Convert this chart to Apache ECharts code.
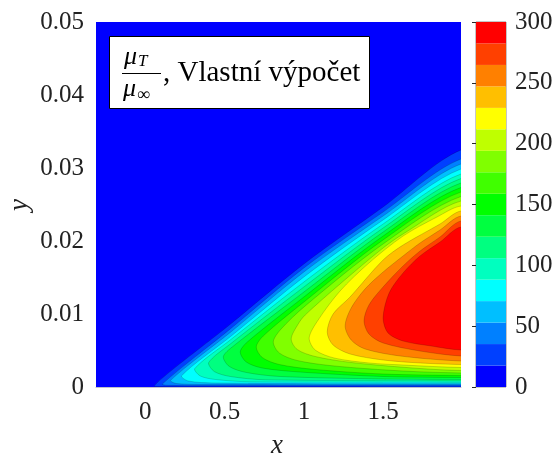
<!DOCTYPE html>
<html><head><meta charset="utf-8">
<script src="https://cdn.jsdelivr.net/npm/echarts@6/dist/echarts.min.js"></script>
<style>html,body{margin:0;padding:0;background:#fff}#c{width:557px;height:457px}</style>
</head><body><div id="c"></div>
<script>
// axis ticks
const xTicks = [0, 0.5, 1, 1.5];
const cbTicks = [0, 50, 100, 150, 200, 250, 300];
// colour band edges (mu_T/mu_inf)
const cbEdges = [0,17.6,35.3,52.9,70.6,88.2,105.9,123.5,141.2,158.8,176.5,194.1,211.8,229.4,247.1,264.7,282.4,300];
const bandColors = ['#0000ff','#0040ff','#0080ff','#00bfff','#00ffff','#00ffbf','#00ff80','#00ff40','#00ff00','#40ff00','#80ff00','#bfff00','#ffff00','#ffbf00','#ff8000','#ff4000','#ff0000'];
// contour lines (x, y): lower edge from right edge to nose, then upper edge back to right edge
const lv01 = [[1.99,0.00005],[0.058,0.00007],[0.536,0.00859],[1.008,0.01699],[1.499,0.02466],[1.99,0.03247]];
const lv02 = [[1.99,0.00021],[0.347,0.00021],[0.146,0.00023],[0.108,0.00041],[0.536,0.00795],[1.008,0.01644],[1.499,0.02397],[1.99,0.03123]];
const lv03 = [[1.99,0.00034],[0.347,0.00037],[0.196,0.00048],[0.159,0.00089],[0.536,0.00747],[1.008,0.01589],[1.499,0.02342],[1.99,0.03055]];
const lv04 = [[1.99,0.00048],[0.442,0.00055],[0.272,0.00082],[0.228,0.00151],[0.536,0.00688],[1.008,0.01521],[1.499,0.02288],[1.99,0.02986]];
const lv05 = [[1.99,0.00062],[0.662,0.00071],[0.442,0.00103],[0.347,0.00151],[0.310,0.00247],[0.536,0.00644],[1.008,0.01452],[1.499,0.02233],[1.99,0.02918]];
const lv06 = [[1.99,0.00082],[0.756,0.00099],[0.536,0.00144],[0.435,0.00212],[0.398,0.00329],[0.536,0.00589],[1.008,0.01384],[1.499,0.02178],[1.99,0.02856]];
const lv07 = [[1.99,0.00103],[1.499,0.00110],[0.851,0.00144],[0.637,0.00199],[0.530,0.00281],[0.492,0.00411],[0.536,0.00527],[1.008,0.01315],[1.499,0.02123],[1.99,0.02795]];
const lv08 = [[1.99,0.00130],[1.499,0.00144],[0.977,0.00205],[0.738,0.00260],[0.637,0.00342],[0.599,0.00479],[0.643,0.00616],[1.008,0.01247],[1.499,0.02068],[1.99,0.02733]];
const lv09 = [[1.99,0.00158],[1.499,0.00178],[1.071,0.00240],[0.845,0.00308],[0.738,0.00404],[0.700,0.00548],[0.744,0.00699],[1.008,0.01178],[1.499,0.02014],[1.99,0.02671]];
const lv10 = [[1.99,0.00192],[1.625,0.00219],[1.191,0.00288],[0.958,0.00363],[0.845,0.00466],[0.807,0.00616],[0.851,0.00781],[1.008,0.01110],[1.499,0.01959],[1.99,0.02610]];
const lv11 = [[1.99,0.00226],[1.732,0.00253],[1.298,0.00336],[1.071,0.00418],[0.958,0.00514],[0.920,0.00658],[0.964,0.00863],[1.008,0.00986],[1.228,0.01411],[1.499,0.01904],[1.625,0.02096],[1.99,0.02548]];
const lv12 = [[1.99,0.00267],[1.625,0.00301],[1.410,0.00329],[1.191,0.00397],[1.071,0.00507],[1.033,0.00671],[1.090,0.00918],[1.228,0.01315],[1.410,0.01699],[1.625,0.02068],[1.839,0.02329],[1.99,0.02479]];
const lv13 = [[1.99,0.00308],[1.732,0.00329],[1.499,0.00370],[1.291,0.00452],[1.184,0.00575],[1.147,0.00753],[1.184,0.01000],[1.291,0.01233],[1.499,0.01740],[1.625,0.01945],[1.858,0.02233],[1.99,0.02411]];
const lv14 = [[1.99,0.00356],[1.606,0.00425],[1.385,0.00521],[1.298,0.00644],[1.260,0.00836],[1.298,0.01082],[1.385,0.01342],[1.499,0.01575],[1.625,0.01795],[1.732,0.01973],[1.858,0.02151],[1.99,0.02342]];
const lv15 = [[1.99,0.00425],[1.732,0.00493],[1.499,0.00603],[1.410,0.00726],[1.379,0.00904],[1.410,0.01123],[1.499,0.01370],[1.625,0.01658],[1.732,0.01863],[1.858,0.02055],[1.99,0.02274]];
const lv16 = [[1.99,0.00507],[1.801,0.00562],[1.625,0.00630],[1.530,0.00740],[1.499,0.00945],[1.537,0.01288],[1.625,0.01562],[1.732,0.01795],[1.858,0.01986],[1.99,0.02192]];
const contours = [lv01,lv02,lv03,lv04,lv05,lv06,lv07,lv08,lv09,lv10,lv11,lv12,lv13,lv14,lv15,lv16];

const FONT = "'Liberation Serif', 'DejaVu Serif', serif";
const X_MIN = -0.31, X_MAX = 1.99;

function renderContour(params, api) {
  const i = api.value(0);
  const pts = contours[i];
  const ext = X_MAX + 0.4;
  const P = [api.coord([ext, pts[0][1]])];
  pts.forEach(p => P.push(api.coord(p)));
  P.push(api.coord([ext, pts[pts.length - 1][1]]));
  let mn = [Infinity, Infinity], mx = [-Infinity, -Infinity];
  P.forEach(p => { mn[0] = Math.min(mn[0], p[0]); mn[1] = Math.min(mn[1], p[1]); mx[0] = Math.max(mx[0], p[0]); mx[1] = Math.max(mx[1], p[1]); });
  return {
    type: 'polygon',
    shape: { points: P, smooth: 0.3, smoothConstraint: [mn, mx] },
    style: { fill: bandColors[i + 1], stroke: 'rgba(0,0,0,0.28)', lineWidth: 0.6 }
  };
}
function renderBar(params, api) {
  const i = api.value(0);
  const a = api.coord([0, cbEdges[i]]);
  const b = api.coord([1, cbEdges[i + 1]]);
  return { type: 'rect', shape: { x: a[0], y: b[1], width: b[0] - a[0], height: a[1] - b[1] }, style: { fill: bandColors[i] } };
}

const chart = echarts.init(document.getElementById('c'), null, { renderer: 'canvas' });
chart.setOption({
  animation: false,
  backgroundColor: '#ffffff',
  grid: [
    { left: 96, top: 22, width: 365, height: 365, show: true, backgroundColor: bandColors[0], borderWidth: 0 },
    { left: 476, top: 22, width: 30, height: 365, show: true, backgroundColor: '#fff', borderColor: '#8c8c8c', borderWidth: 1 }
  ],
  xAxis: [
    { type: 'value', gridIndex: 0, min: X_MIN, max: X_MAX,
      axisLine: { show: true, lineStyle: { color: 'rgba(150,150,170,0.6)' } },
      axisTick: { show: false },
      splitLine: { show: false },
      axisLabel: { customValues: xTicks, fontFamily: FONT, fontSize: 25, color: '#222', margin: 13 } },
    { type: 'value', gridIndex: 1, min: 0, max: 1, show: false }
  ],
  yAxis: [
    { type: 'value', gridIndex: 0, min: 0, max: 0.05, interval: 0.01,
      axisLine: { show: false }, axisTick: { show: false }, splitLine: { show: false },
      axisLabel: { fontFamily: FONT, fontSize: 25, color: '#222', margin: 12 } },
    { type: 'value', gridIndex: 1, min: 0, max: 300, interval: 50, position: 'right',
      axisLine: { show: false }, splitLine: { show: false },
      axisTick: { show: true, inside: true, length: 4, lineStyle: { color: '#262626' } },
      axisLabel: { customValues: cbTicks, fontFamily: FONT, fontSize: 25, color: '#222', margin: 9 } }
  ],
  series: [
    { type: 'custom', xAxisIndex: 0, yAxisIndex: 0, clip: true, renderItem: renderContour,
      data: contours.map((c, i) => [i]), silent: true },
    { type: 'custom', xAxisIndex: 1, yAxisIndex: 1, renderItem: renderBar,
      data: bandColors.map((c, i) => [i]), silent: true }
  ],
  graphic: [
    { type: 'text', x: 277, y: 446, style: { text: 'x', font: "italic 27px " + FONT, fill: '#222', align: 'center', verticalAlign: 'middle' } },
    { type: 'text', x: 20, y: 205, rotation: Math.PI / 2, style: { text: 'y', font: "italic 27px " + FONT, fill: '#222', align: 'center', verticalAlign: 'middle' } },
    { type: 'rect', shape: { x: 109.5, y: 36.5, width: 260, height: 72 }, style: { fill: '#fff', stroke: '#000', lineWidth: 1 } },
    { type: 'text', x: 124, y: 57, style: { text: 'μ', font: "italic 26px " + FONT, fill: '#000', verticalAlign: 'middle' } },
    { type: 'text', x: 138, y: 62, style: { text: 'T', font: "italic 17px " + FONT, fill: '#000', verticalAlign: 'middle' } },
    { type: 'line', shape: { x1: 122, y1: 73.5, x2: 161, y2: 73.5 }, style: { stroke: '#000', lineWidth: 1 } },
    { type: 'text', x: 123, y: 89, style: { text: 'μ', font: "italic 26px " + FONT, fill: '#000', verticalAlign: 'middle' } },
    { type: 'text', x: 137, y: 95, style: { text: '∞', font: "18px " + FONT, fill: '#000', verticalAlign: 'middle' } },
    { type: 'text', x: 163, y: 73, style: { text: ', Vlastní výpočet', font: "29px " + FONT, fill: '#000', verticalAlign: 'middle' } }
  ]
});
</script></body></html>
